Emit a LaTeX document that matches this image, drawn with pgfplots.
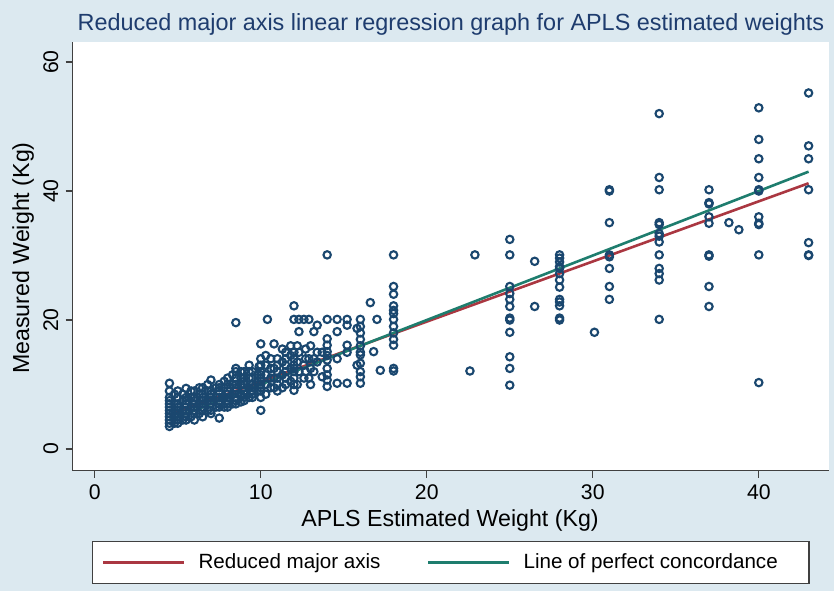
\documentclass[border=0pt]{standalone}
\usepackage{fontspec}
\setmainfont{Liberation Sans}
\usepackage{pgfplots}
\pgfplotsset{compat=1.18}

\definecolor{bgblue}{RGB}{220,233,240}
\definecolor{stnavy}{RGB}{26,71,111}
\definecolor{stred}{RGB}{170,55,65}
\definecolor{stgreen}{RGB}{30,125,110}
\definecolor{titleblue}{RGB}{30,60,110}

\pgfplotstableread{
x y
4.5 3.5
4.5 4
4.5 4.5
4.5 5
4.5 5.5
4.5 6
4.5 6.5
4.5 7
4.5 7.5
4.5 8
4.5 9
4.5 10.2
4.8 4
4.8 5
4.8 6
4.8 7
4.8 8.5
5 4
5 4.5
5 5
5 5.5
5 6
5 6.5
5 7
5 8
5 9
5.3 4.5
5.3 6
5.3 7.5
5.3 8.5
5.5 4.5
5.5 5
5.5 5.5
5.5 6
5.5 7
5.5 7.5
5.5 8
5.5 9.4
5.8 5
5.8 6.5
5.8 8
5.8 9
6 4.5
6 5.5
6 6
6 6.5
6 7
6 7.5
6 8
6 9
6.3 5.5
6.3 7
6.3 8.5
6.3 9.5
6.5 5
6.5 6
6.5 6.5
6.5 7
6.5 7.5
6.5 8
6.5 8.5
6.5 9.5
6.8 6
6.8 7.5
6.8 9
6.8 10
7 5.5
7 6
7 7
7 7.5
7 8
7 8.5
7 9
7 10.7
7.3 6.5
7.3 8
7.3 9.5
7.5 4.8
7.5 6.5
7.5 7
7.5 7.5
7.5 8
7.5 9
7.5 9.5
7.5 10
7.8 6.5
7.8 8
7.8 9.5
7.8 10.5
8 6.5
8 7
8 7.5
8 8
8 8.5
8 9
8 10
8 11
8.3 7
8.3 8.5
8.3 10
8.3 11.5
8.5 7
8.5 7.5
8.5 8
8.5 9
8.5 9.5
8.5 10
8.5 11
8.5 12
8.5 12.5
8.5 19.6
8.8 7.3
8.8 8.5
8.8 10
8.8 11
8.8 12
9 7.5
9 8
9 8.5
9 9
9 10
9 10.5
9 11
9 12
9.3 8
9.3 9.5
9.3 11
9.3 12
9.3 13
9.5 8
9.5 8.5
9.5 9
9.5 9.5
9.5 10
9.5 11
9.5 12
9.8 9
9.8 10.5
9.8 11.5
9.9 12.8
10 6
10 8
10 9
10 9.5
10 10
10 10.5
10 11
10 11.5
10 12
10 13
10 14
10 16.3
10.3 8.5
10.3 10
10.3 11.5
10.3 13
10.3 14.5
10.4 20.1
10.6 9.5
10.6 11
10.6 12.5
10.6 14
10.8 16.3
10.8 11
10.8 12.5
10.8 9.5
11 9
11 10
11 11
11 12
11 13
11 14
11.3 9.5
11.3 11.5
11.3 13.5
11.3 15.5
11.5 10
11.5 11
11.5 12
11.5 13
11.5 14
11.5 15
11.8 10.5
11.8 12.5
11.8 14.5
11.8 16
12 9.1
12 10
12 11
12 12
12 12.5
12 13
12 14
12 15
12 20.1
12 22.2
12.2 10
12.2 13.5
12.2 16
12.3 20.1
12.3 18.2
12.3 15
12.3 12
12.6 20.1
12.6 13
12.6 11
12.7 12
12.7 14
12.7 15.5
12.9 20.1
12.9 11
12.9 14
13 10
13 12.5
13 16
13.2 18.2
13.2 12
13.2 14
13.4 19.2
13.4 15
13.4 13.5
13.7 11.2
13.7 15
14 30.1
14 20.1
14 17.1
14 16.1
14 15.1
14 13.8
14 12.5
14 11.5
14 10.7
14 9.7
14 14.5
14.6 20.1
14.6 18.2
14.6 14
14.6 10.2
15.2 20.1
15.2 19.2
15.2 15
15.2 10.2
15.2 16.1
15.8 13
15.8 18.7
16 20.1
16 19
16 18
16 17
16 16
16 15
16 14.6
16 13.3
16 12
16 11.2
16 10.2
16.6 22.7
16.8 15.1
17 20.1
17.2 12.2
18 30.1
18 25.2
18 24
18 22.2
18 21.5
18 21
18 20.1
18 19
18 18
18 17
18 16.1
18 12.5
18 12.1
22.6 12.1
22.9 30.1
25 32.5
25 30.1
25 25.2
25 24.1
25 23.2
25 22.1
25 20.3
25 20
25 18.1
25 14.3
25 12.5
25 9.9
26.5 29.1
26.5 22.1
28 30.1
28 29.6
28 29
28 28.3
28 28
28 27.2
28 26.2
28 25.1
28 23.2
28 22.8
28 22.2
28 20.3
28 20
30.1 18.1
31 40.2
31 40
31 35.1
31 30.1
31 29.8
31 28
31 25.2
31 23.2
34 52
34 42.1
34 40.2
34 35.1
34 34.8
34 33.4
34 33
34 32.1
34 30.1
34 28
34 27.2
34 26.2
34 20.1
37 40.2
37 38.2
37 38
37 36
37 35
37 30.1
37 29.9
37 25.2
37 22.1
38.2 35.1
38.8 34
40 52.9
40 48
40 45
40 42.1
40 40.2
40 40
40 36
40 35
40 34.8
40 30.1
40 10.3
43 55.2
43 47
43 45
43 40.2
43 32
43 30.1
43 30
}\weights

\begin{document}
\begin{tikzpicture}
\fill[bgblue] (0pt,0pt) rectangle (417pt,295.5pt);
\begin{axis}[
    at={(36.25pt,60.25pt)},
    anchor=south west,
    scale only axis,
    width=378.25pt,
    height=214.5pt,
    xmin=-1.34, xmax=44.23,
    ymin=-3.33, ymax=63.18,
    axis lines*=left,
    axis line style={black!75, line width=0.6pt},
    axis background/.style={fill=white},
    xtick={0,10,20,30,40},
    ytick={0,20,40,60},
    tick align=outside,
    major tick length=3.5pt,
    tick style={black!75, line width=0.6pt},
    /pgf/number format/assume math mode=true,
    ticklabel style={font=\fontsize{10.6}{12}\selectfont},
    yticklabel style={rotate=90, anchor=south},
    xlabel={APLS Estimated Weight (Kg)},
    ylabel={Measured Weight (Kg)},
    xlabel style={at={(axis description cs:0.499,-0.1154)}, anchor=center, font=\fontsize{11.6}{13}\selectfont},
    ylabel style={at={(axis description cs:-0.0654,0.495)}, anchor=center, font=\fontsize{11.6}{13}\selectfont},
    title={Reduced major axis linear regression graph for APLS estimated weights},
    title style={at={(axis description cs:0.5003,1.011)}, anchor=center, font=\fontsize{11.7}{13}\selectfont, text=titleblue},
    legend columns=2,
    legend style={at={(0.4998,-0.2145)}, anchor=center, draw=black!75, line width=0.6pt,
        fill=white, inner xsep=4.8pt, inner ysep=4pt,
        font=\fontsize{10.3}{12}\selectfont,
        /tikz/every even column/.append style={column sep=21.2pt}},
    legend cell align=left,
    legend image code/.code={\draw[#1, line width=1.3pt] (0pt,0pt) -- (40.5pt,0pt); \path (45pt,0pt);},
]
\addplot[only marks, mark=o, mark size=1.85pt, draw=stnavy, mark options={line width=1.05pt}, forget plot]
    table[x=x, y=y] {\weights};
\addplot[stred, line width=1.3pt] coordinates {(4.5,5.3) (43,41.2)};
\addlegendentry{Reduced major axis}
\addplot[stgreen, line width=1.3pt] coordinates {(4.5,4.5) (43,43)};
\addlegendentry{Line of perfect concordance\hspace*{8.75pt}}
\end{axis}
\pgfresetboundingbox
\path[use as bounding box] (0pt,0pt) rectangle (417pt,295.5pt);
\end{tikzpicture}
\end{document}
